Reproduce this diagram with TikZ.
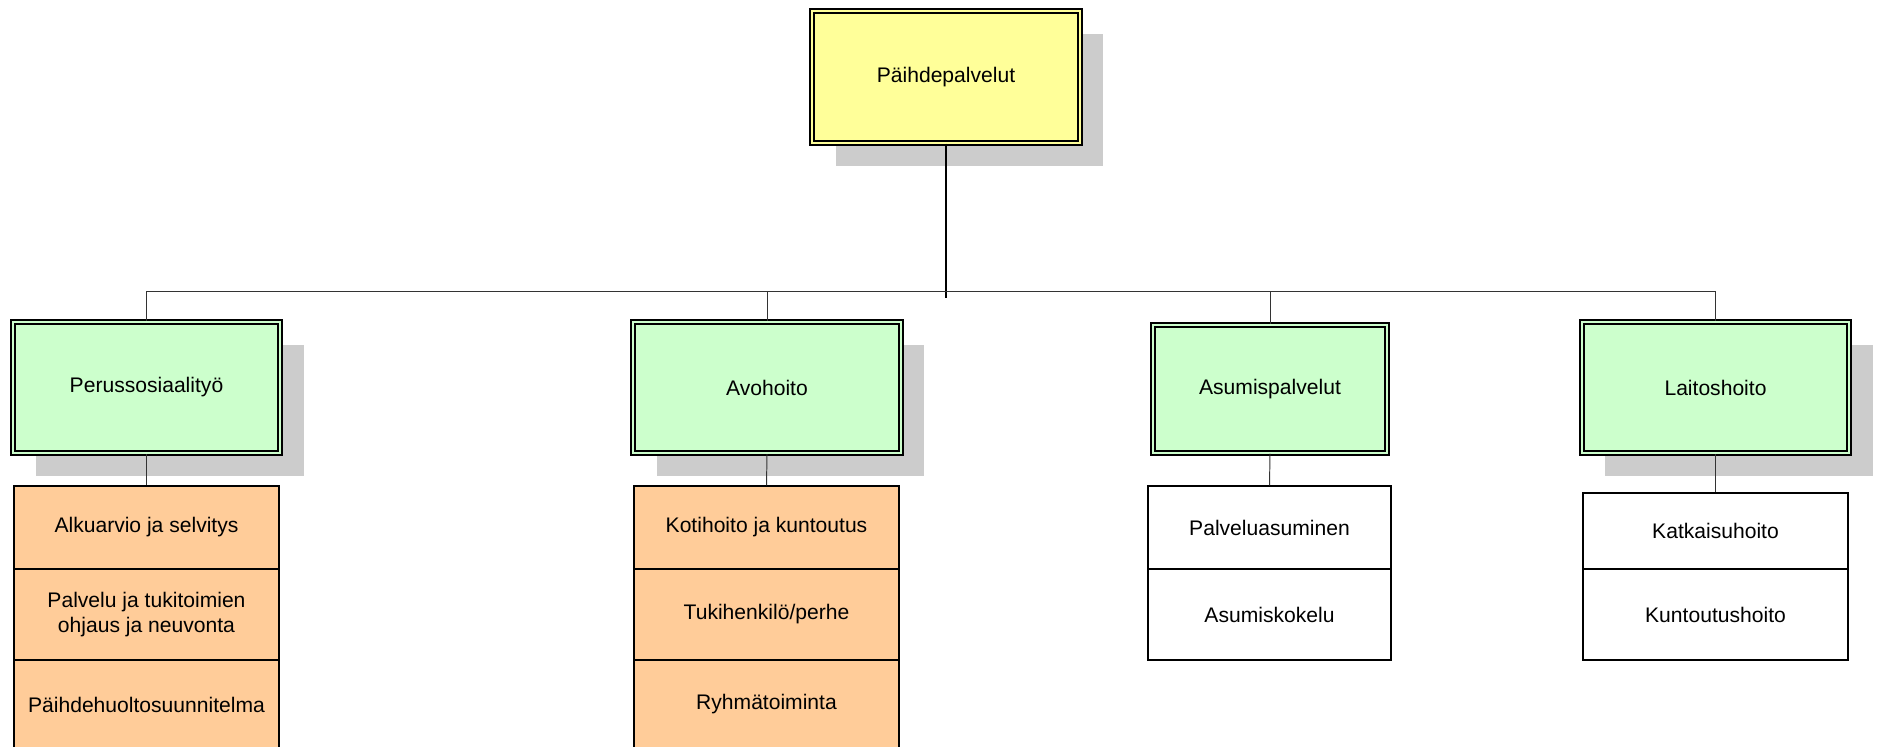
\documentclass[tikz,border=0pt]{standalone}
\usepackage{fontspec}
\setmainfont{Liberation Sans}
\usetikzlibrary{positioning, shadows}
\definecolor{BoxYellow}{RGB}{255,255,153}
\definecolor{BoxGreen}{RGB}{204,255,204}
\definecolor{BoxOrange}{RGB}{255,204,153}
\definecolor{ShadowGray}{RGB}{204,204,204}

\begin{document}
\begin{tikzpicture}[x=0.02cm, y=-0.02cm, font=\fontsize{12}{14}\selectfont]
        \tikzstyle{head} = [rectangle, draw=black, line width=1pt, double distance=1.3pt,
          inner sep=0pt, minimum width=5.35cm, minimum height=2.63cm]
        \tikzstyle{boxshadow} = [drop shadow={shadow xshift=0.47cm, shadow yshift=-0.46cm,
          fill=ShadowGray, opacity=1}]
        \tikzstyle{leaf} = [rectangle, draw=black, line width=0.8pt, inner sep=0pt, align=center]
        \tikzstyle{link} = [draw=black!80, line width=0.55pt]

        \useasboundingbox (0,0) rectangle (1883,747);

        \node[head, boxshadow, fill=BoxYellow, double=BoxYellow] (root) at (946,77) {Päihdepalvelut};

        \node[head, boxshadow, fill=BoxGreen, double=BoxGreen] (perus) at (146.5,387.5) {Perussosiaalityö};
        \node[head, boxshadow, fill=BoxGreen, double=BoxGreen] (avo) at (767,387.5) {Avohoito};
        \node[head, fill=BoxGreen, double=BoxGreen, minimum width=4.67cm, minimum height=2.55cm]
          (asu) at (1270,389) {Asumispalvelut};
        \node[head, boxshadow, fill=BoxGreen, double=BoxGreen] (lai) at (1715.5,387.5) {Laitoshoito};

        \foreach \txt/\yc/\hh [count=\i] in {Alkuarvio ja selvitys/527.5/1.66cm,
            {Palvelu ja tukitoimien\\ohjaus ja neuvonta}/614.5/1.82cm, Päihdehuoltosuunnitelma/704.5/1.78cm}
          \node[leaf, fill=BoxOrange, minimum width=5.3cm, minimum height=\hh] (perus\i) at (146.5,\yc) {\txt};

        \foreach \txt/\yc/\hh [count=\i] in {Kotihoito ja kuntoutus/527.5/1.66cm,
            {Tukihenkilö/perhe}/614.5/1.82cm, Ryhmätoiminta/704.5/1.78cm}
          \node[leaf, fill=BoxOrange, minimum width=5.3cm, minimum height=\hh] (avo\i) at (766.5,\yc) {\txt};

        \foreach \txt/\yc/\hh [count=\i] in {Palveluasuminen/527.5/1.66cm, Asumiskokelu/614.5/1.82cm}
          \node[leaf, fill=white, minimum width=4.86cm, minimum height=\hh] (asu\i) at (1269.5,\yc) {\txt};

        \foreach \txt/\yc/\hh [count=\i] in {Katkaisuhoito/531/1.52cm, Kuntoutushoito/614.5/1.82cm}
          \node[leaf, fill=white, minimum width=5.3cm, minimum height=\hh] (lai\i) at (1715.5,\yc) {\txt};

        \coordinate (bus) at (946,291);
        \coordinate (stub) at (946,298);
        \draw[line width=1pt] (root.south) -- (stub);
        \draw[link] (perus |- bus) -- (lai |- bus);

        \foreach \col in {perus, avo, asu, lai} {
          \draw[link] (\col |- bus) -- (\col.north);
          \draw[link] (\col.south) -- (\col1.north);
        }
      \end{tikzpicture}
\end{document}
